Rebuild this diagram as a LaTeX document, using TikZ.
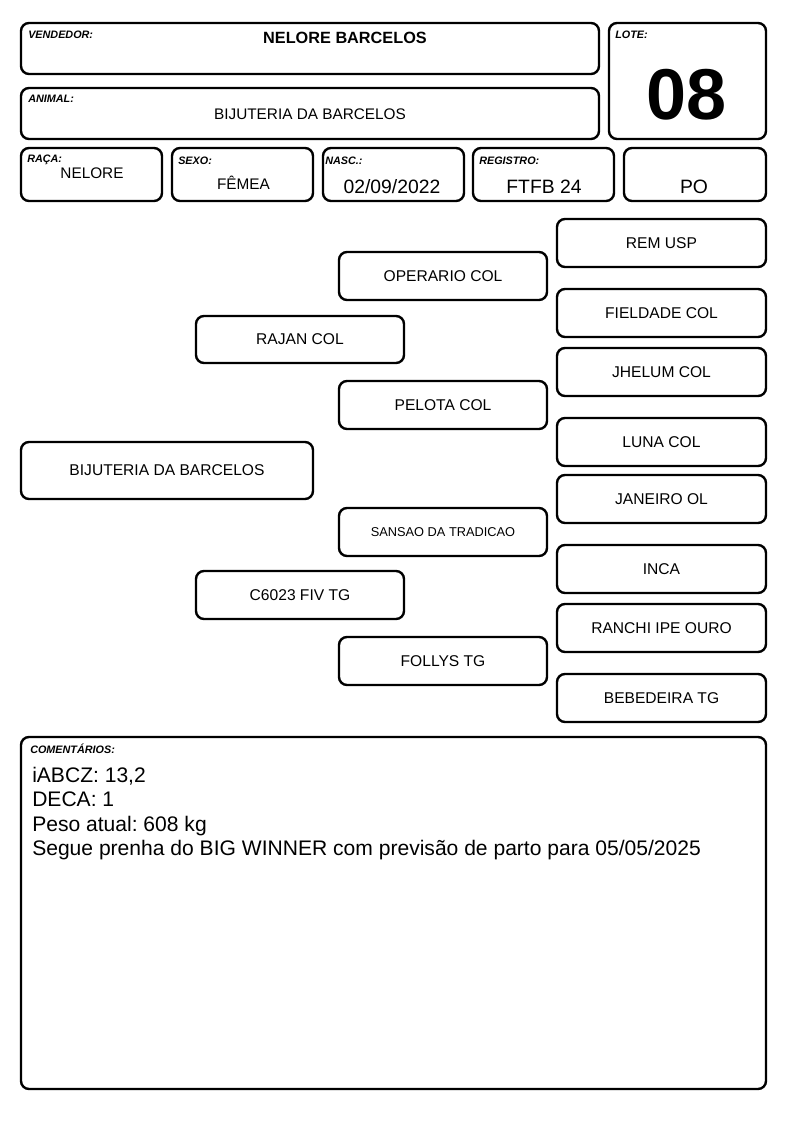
\documentclass[tikz,border=0pt]{standalone}
\usepackage{fontspec}
\setmainfont{Liberation Sans}
\usetikzlibrary{fit}
\frenchspacing

\begin{document}
\begin{tikzpicture}[x=0.75pt, y=-0.75pt,
    box/.style={draw, line width=1.8pt, rounded corners=6pt, inner sep=0pt},
    tag/.style={anchor=base west, inner sep=0pt, font=\fontsize{8.1}{9}\selectfont\bfseries\itshape},
    info/.style={anchor=base, inner sep=0pt, font=\fontsize{11.5}{14}\selectfont},
    big/.style={anchor=base, inner sep=0pt, font=\fontsize{14.5}{17}\selectfont},
    pedname/.style={box, minimum width=156pt, minimum height=36pt, font=\fontsize{11.7}{14}\selectfont}]
    \useasboundingbox (0,0) rectangle (794,1123);
    %% Header
    \node[box, fit={(21,23) (599,74)}] (vendedor) {};
    \node[tag] (vendedortag) at (28,38.5) {VENDEDOR:};
    \node[info, font=\fontsize{12.2}{14}\selectfont\bfseries] (vendedorname) at (345,43.3) {NELORE BARCELOS};
    \node[box, fit={(21,88) (599,139)}] (animal) {};
    \node[tag] (animaltag) at (28,103) {ANIMAL:};
    \node[info] (animalname) at (310,119.3) {BIJUTERIA DA BARCELOS};
    \node[box, fit={(609,23) (766,139)}] (lote) {};
    \node[tag] (lotetag) at (615,39) {LOTE:};
    \node[info, font=\fontsize{54}{60}\selectfont\bfseries] (lotenum) at (687,120) {08};
    %% Data row
    \node[box, fit={(21,148) (162,201)}] (raca) {};
    \node[tag] (racatag) at (27,162.3) {RAÇA:};
    \node[info] (racaname) at (92,178.3) {NELORE};
    \node[box, fit={(172,148) (313,201)}] (sexo) {};
    \node[tag] (sexotag) at (178,165) {SEXO:};
    \node[info] (sexoname) at (243.5,189.3) {FÊMEA};
    \node[box, fit={(323,148) (464,201)}] (nasc) {};
    \node[tag] (nasctag) at (325,165) {NASC.:};
    \node[big] (nascdate) at (392,193.3) {02/09/2022};
    \node[box, fit={(473,148) (614,201)}] (registro) {};
    \node[tag] (registrotag) at (479,165) {REGISTRO:};
    \node[big] (registronum) at (544,193.3) {FTFB 24};
    \node[box, fit={(624,148) (766,201)}] (categoria) {};
    \node[big] (categorianame) at (694,193.3) {PO};
    %% Pedigree
    \node[pedname, minimum width=219pt, minimum height=42.75pt] (animalped) at (167,470.5) {BIJUTERIA DA BARCELOS};
    \node[pedname, minimum height=35.25pt] (pai) at (300,339.5) {RAJAN COL};
    \node[pedname] (mae) at (300,595) {C6023 FIV TG};
    \node[pedname] (avopp) at (443,276) {OPERARIO COL};
    \node[pedname] (avopm) at (443,405) {PELOTA COL};
    \node[pedname, font=\fontsize{9.6}{12}\selectfont] (avomp) at (443,532) {SANSAO DA TRADICAO};
    \node[pedname] (avomm) at (443,661) {FOLLYS TG};
    \node[pedname, minimum width=156.75pt] (bisa1) at (661.5,243) {REM USP};
    \node[pedname, minimum width=156.75pt] (bisa2) at (661.5,313) {FIELDADE COL};
    \node[pedname, minimum width=156.75pt] (bisa3) at (661.5,372) {JHELUM COL};
    \node[pedname, minimum width=156.75pt] (bisa4) at (661.5,442) {LUNA COL};
    \node[pedname, minimum width=156.75pt] (bisa5) at (661.5,499) {JANEIRO OL};
    \node[pedname, minimum width=156.75pt] (bisa6) at (661.5,569) {INCA};
    \node[pedname, minimum width=156.75pt] (bisa7) at (661.5,628) {RANCHI IPE OURO};
    \node[pedname, minimum width=156.75pt] (bisa8) at (661.5,698) {BEBEDEIRA TG};
    %% Comments
    \node[box, fit={(21,737) (766,1089)}] (comentarios) {};
    \node[tag] (comentariostag) at (30,753.5) {COMENTÁRIOS:};
    \node[anchor=north west, inner sep=0pt, align=left, font=\fontsize{15.8}{18.3}\selectfont] (comentariostext) at (32,767)
        {iABCZ: 13,2\\DECA: 1\\Peso atual: 608 kg\\Segue prenha do BIG WINNER com previsão de parto para 05/05/2025};
\end{tikzpicture}
\end{document}
